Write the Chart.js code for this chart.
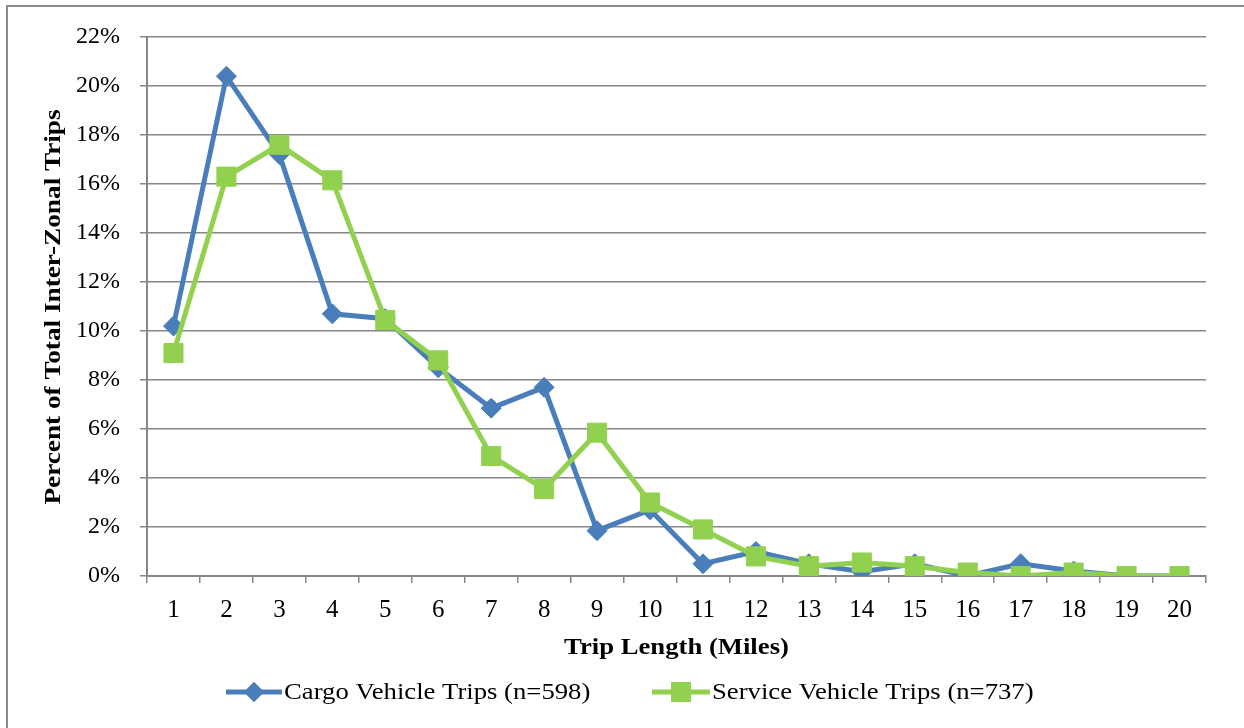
<!DOCTYPE html>
<html>
<head>
<meta charset="utf-8">
<script src="https://cdn.jsdelivr.net/npm/chart.js@4"></script>
<style>
  html, body { margin: 0; padding: 0; background: #ffffff; }
  #wrap { width: 1244px; height: 728px; }
</style>
</head>
<body>
<div id="wrap"><canvas id="chart" width="1244" height="728"></canvas></div>
<script>
// Trip length bins (miles)
const tripLengths = ['1','2','3','4','5','6','7','8','9','10','11','12','13','14','15','16','17','18','19','20'];

// Share of total inter-zonal trips (%) per trip length
const cargoTrips = [10.2, 20.4, 17.2, 10.7, 10.5, 8.5, 6.85, 7.7, 1.85, 2.7, 0.5, 1.0, 0.5, 0.17, 0.5, 0.0, 0.5, 0.2, 0.0, 0.0];
const serviceTrips = [9.1, 16.3, 17.6, 16.15, 10.45, 8.8, 4.9, 3.55, 5.85, 3.0, 1.9, 0.8, 0.4, 0.55, 0.4, 0.14, 0.0, 0.14, 0.0, 0.0];

const seriesNames = ['Cargo Vehicle Trips (n=598)', 'Service Vehicle Trips (n=737)'];
const xTitle = 'Trip Length (Miles)';
const yTitle = 'Percent of Total Inter-Zonal Trips';

const BLUE = '#4a7ebb';
const GREEN = '#92d050';
const GRID = '#868686';
const FONT = '"Liberation Serif", "Times New Roman", serif';
const STRETCH = 1.16; // titles and legend use a slightly widened face

// Text drawn with a horizontal stretch along its baseline
function wideText(ctx, text, x, y, align) {
  ctx.save();
  ctx.translate(x, y);
  ctx.scale(STRETCH, 1);
  ctx.textAlign = align;
  ctx.fillText(text, 0, 0);
  ctx.restore();
}

// Frame, axis titles and legend
const decorations = {
  id: 'decorations',
  beforeDraw(chart) {
    const ctx = chart.ctx;
    ctx.save();
    ctx.fillStyle = '#ffffff';
    ctx.fillRect(0, 0, chart.width, chart.height);
    ctx.strokeStyle = '#8a8a8a';
    ctx.lineWidth = 2;
    ctx.strokeRect(7, 6, chart.width + 20, chart.height + 20);
    ctx.restore();
  },
  afterDraw(chart) {
    const ctx = chart.ctx;
    const area = chart.chartArea;
    ctx.save();
    ctx.fillStyle = '#000000';
    ctx.textBaseline = 'middle';
    ctx.font = 'bold 23px ' + FONT;
    wideText(ctx, xTitle, (area.left + area.right) / 2, 648, 'center');
    ctx.save();
    ctx.translate(54, 307);
    ctx.rotate(-Math.PI / 2);
    ctx.font = 'bold 23.5px ' + FONT;
    wideText(ctx, yTitle, 0, 0, 'center');
    ctx.restore();
    ctx.restore();

    // legend
    const items = [
      { x: 226, w: 56, color: BLUE, style: 'rectRot', r: 10, text: seriesNames[0] },
      { x: 652, w: 58, color: GREEN, style: 'rect', r: 14, text: seriesNames[1] }
    ];
    const ly = 692;
    ctx.save();
    ctx.font = '23px ' + FONT;
    ctx.textBaseline = 'middle';
    items.forEach(it => {
      ctx.strokeStyle = it.color;
      ctx.lineWidth = 5;
      ctx.beginPath();
      ctx.moveTo(it.x, ly);
      ctx.lineTo(it.x + it.w, ly);
      ctx.stroke();
      ctx.fillStyle = it.color;
      Chart.helpers.drawPoint(ctx, { pointStyle: it.style, radius: it.r, borderWidth: 0 }, it.x + it.w / 2, ly);
      ctx.fill();
      ctx.fillStyle = '#000000';
      wideText(ctx, it.text, it.x + it.w + 2, ly + 1, 'left');
    });
    ctx.restore();
  }
};

new Chart(document.getElementById('chart'), {
  type: 'line',
  data: {
    labels: tripLengths,
    datasets: [
      {
        label: seriesNames[0],
        data: cargoTrips,
        borderColor: BLUE,
        backgroundColor: BLUE,
        borderWidth: 5,
        pointStyle: 'rectRot',
        pointRadius: 10,
        pointBorderWidth: 1,
        pointHoverRadius: 10,
        tension: 0,
        order: 2
      },
      {
        label: seriesNames[1],
        data: serviceTrips,
        borderColor: GREEN,
        backgroundColor: GREEN,
        borderWidth: 5,
        pointStyle: 'rect',
        pointRadius: 13.5,
        pointBorderWidth: 1,
        pointHoverRadius: 13.5,
        tension: 0,
        order: 1
      }
    ]
  },
  options: {
    responsive: false,
    animation: false,
    events: [],
    layout: { padding: { left: 0, right: 38, top: 37, bottom: 0 } },
    plugins: {
      legend: { display: false },
      tooltip: { enabled: false }
    },
    scales: {
      x: {
        offset: true,
        grid: {
          offset: true,
          drawOnChartArea: false,
          drawTicks: true,
          tickLength: 7,
          color: GRID,
          lineWidth: 1.5
        },
        border: { display: true, color: GRID, width: 2 },
        ticks: {
          color: '#000000',
          font: { family: FONT, size: 25 },
          padding: 12,
          maxRotation: 0,
          autoSkip: false
        },
        afterFit(scale) { scale.height = 152; }
      },
      y: {
        min: 0,
        max: 22,
        grid: {
          drawTicks: true,
          tickLength: 7,
          color: GRID,
          lineWidth: 1.5
        },
        border: { display: true, color: GRID, width: 2 },
        ticks: {
          stepSize: 2,
          color: '#000000',
          font: { family: FONT, size: 24 },
          padding: 20,
          callback: v => v + '%'
        },
        afterFit(scale) { scale.width = 147; }
      }
    }
  },
  plugins: [decorations]
});
</script>
</body>
</html>
